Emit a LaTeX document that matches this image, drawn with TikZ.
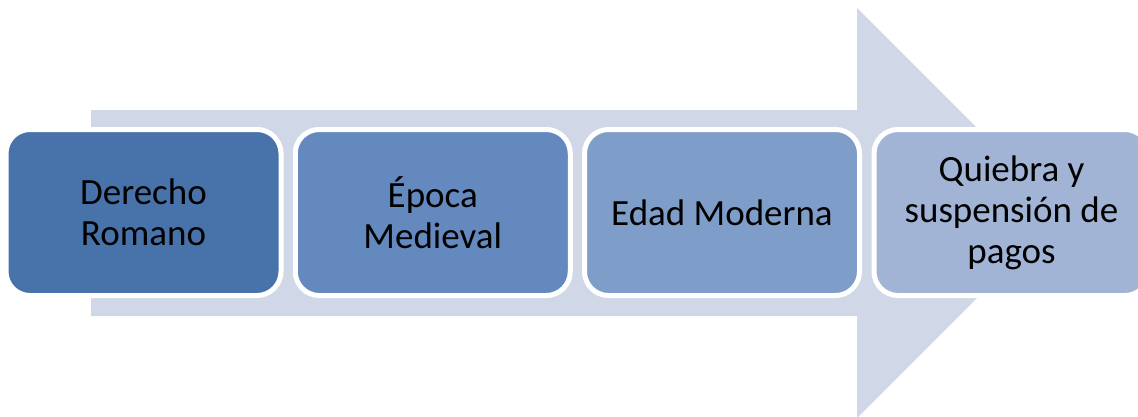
\documentclass[tikz,border=0pt]{standalone}
\usepackage{fontspec}
\setmainfont{Carlito}
\begin{document}
\begin{tikzpicture}[x=1pt,y=-1pt,
  stagebox/.style={draw=white, line width=5pt, rounded corners=24pt,
    minimum width=275pt, minimum height=166pt, inner sep=0pt,
    align=center,
    font=\fontsize{37pt}{41pt}\selectfont, text=black},
  band/.style={fill=arrowgray, draw=none}]
\definecolor{arrowgray}{HTML}{D0D8E8}
\definecolor{stageA}{HTML}{4873AA}
\definecolor{stageB}{HTML}{6389BE}
\definecolor{stageC}{HTML}{7F9DC9}
\definecolor{stageD}{HTML}{A1B4D6}
\useasboundingbox (0,0) rectangle (1138,416);
\clip (0,0) rectangle (1138,416);
% background arrow
\path[band] (91,110) -- (857,110) -- (857,8) -- (1062,213)
  -- (857,418) -- (857,316) -- (91,316) -- cycle;
% stages
\node[stagebox, fill=stageA] (derecho) at (143.5,212.5) {Derecho\\Romano};
\node[stagebox, fill=stageB] (medieval) at (432.75,212.5) {Época\\Medieval};
\node[stagebox, fill=stageC] (moderna) at (722,212.5) {Edad Moderna};
\node[stagebox, fill=stageD] (quiebra) at (1011.5,212.5) {Quiebra y\\suspensión de\\pagos};
\end{tikzpicture}
\end{document}
